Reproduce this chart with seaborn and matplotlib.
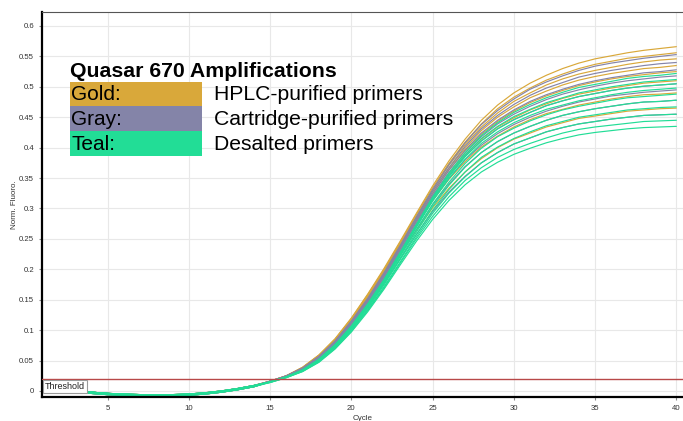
import pandas as pd
import matplotlib.pyplot as plt
import seaborn as sns
from matplotlib.patches import Rectangle

# cycles 1-14 (baseline) and cycles 15-40 (rise)
cycles = list(range(1, 41))

baseline_a = [0.004, 0.002, 0.000, -0.002, -0.004, -0.006, -0.007, -0.007, -0.007, -0.006, -0.004, -0.001, 0.003, 0.008]
baseline_b = [0.007, 0.004, 0.001, -0.002, -0.004, -0.005, -0.006, -0.006, -0.006, -0.005, -0.003, 0.000, 0.004, 0.009]
baseline_c = [0.002, 0.000, -0.002, -0.004, -0.006, -0.007, -0.008, -0.008, -0.008, -0.007, -0.005, -0.002, 0.002, 0.007]

gold_rise = [
    [.016, .025, .039, .059, .086, .120, .159, .201, .246, .292, .337, .378, .414, .445, .470, .490, .506, .519, .530, .539, .546, .551, .556, .560, .563, .566],
    [.016, .025, .039, .059, .085, .119, .158, .199, .244, .290, .334, .374, .409, .439, .464, .483, .498, .511, .521, .530, .537, .542, .547, .550, .553, .556],
    [.016, .025, .038, .058, .085, .118, .157, .198, .242, .287, .331, .371, .405, .434, .457, .476, .490, .503, .513, .521, .527, .532, .537, .541, .544, .546],
    [.016, .025, .038, .058, .084, .117, .155, .196, .240, .285, .328, .366, .399, .428, .450, .467, .482, .493, .503, .511, .517, .522, .526, .530, .532, .535],
    [.016, .024, .038, .057, .084, .116, .154, .195, .238, .282, .325, .363, .395, .422, .443, .460, .474, .485, .494, .502, .508, .513, .517, .520, .523, .525],
    [.016, .024, .037, .056, .083, .115, .152, .193, .235, .279, .321, .357, .388, .414, .434, .449, .462, .472, .481, .488, .493, .498, .502, .506, .508, .510],
    [.016, .024, .037, .055, .081, .113, .150, .189, .231, .273, .313, .348, .377, .401, .419, .434, .446, .456, .463, .470, .475, .480, .484, .487, .488, .490],
    [.016, .024, .036, .054, .079, .110, .146, .184, .224, .264, .301, .333, .360, .382, .400, .414, .424, .434, .441, .448, .452, .456, .460, .462, .464, .465],
]

gray_rise = [
    [.016, .025, .038, .057, .082, .115, .152, .194, .239, .286, .331, .372, .408, .438, .461, .480, .496, .508, .518, .527, .534, .539, .543, .547, .550, .553],
    [.016, .025, .037, .056, .082, .114, .151, .192, .237, .283, .328, .367, .402, .431, .453, .471, .486, .498, .507, .516, .522, .527, .531, .535, .538, .540],
    [.016, .024, .037, .055, .081, .113, .149, .190, .235, .280, .324, .363, .396, .424, .445, .462, .476, .487, .496, .504, .510, .515, .519, .523, .525, .528],
    [.016, .024, .037, .055, .080, .112, .148, .189, .233, .277, .321, .359, .391, .418, .439, .455, .468, .479, .488, .495, .501, .506, .510, .513, .516, .518],
    [.016, .024, .036, .054, .079, .110, .147, .187, .230, .274, .318, .354, .386, .411, .431, .446, .458, .469, .477, .484, .489, .494, .498, .501, .503, .505],
    [.016, .024, .036, .054, .079, .109, .145, .185, .228, .271, .314, .349, .380, .404, .423, .438, .450, .460, .468, .475, .480, .485, .488, .491, .493, .495],
    [.016, .024, .035, .053, .077, .107, .143, .182, .223, .265, .306, .340, .369, .392, .410, .424, .435, .445, .453, .459, .464, .468, .472, .475, .476, .478],
    [.015, .023, .035, .051, .075, .105, .139, .177, .217, .257, .295, .327, .353, .375, .392, .406, .416, .426, .433, .439, .443, .447, .450, .453, .454, .455],
]

teal_rise = [
    [.015, .023, .035, .052, .076, .107, .143, .183, .228, .274, .319, .358, .392, .420, .441, .458, .471, .482, .491, .499, .504, .509, .514, .517, .519, .522],
    [.015, .023, .034, .052, .076, .106, .142, .182, .226, .272, .317, .355, .388, .415, .435, .451, .463, .474, .482, .490, .495, .500, .504, .508, .510, .512],
    [.015, .023, .034, .051, .075, .105, .141, .181, .225, .270, .315, .352, .385, .411, .431, .446, .458, .469, .477, .484, .489, .494, .498, .501, .503, .505],
    [.015, .023, .034, .051, .075, .105, .140, .180, .224, .269, .312, .349, .381, .407, .426, .441, .453, .463, .470, .477, .482, .487, .491, .494, .496, .498],
    [.015, .023, .034, .050, .074, .104, .138, .178, .221, .265, .307, .343, .374, .399, .418, .432, .444, .454, .462, .468, .473, .478, .482, .484, .486, .488],
    [.015, .023, .033, .050, .073, .102, .137, .176, .218, .261, .303, .338, .368, .392, .410, .424, .435, .445, .453, .459, .464, .468, .472, .475, .476, .478],
    [.015, .023, .033, .049, .072, .101, .135, .174, .216, .257, .297, .331, .360, .384, .401, .415, .426, .436, .443, .450, .454, .458, .462, .464, .466, .467],
    [.014, .022, .033, .048, .071, .100, .133, .171, .212, .253, .292, .325, .352, .375, .392, .406, .416, .426, .433, .439, .443, .447, .450, .453, .454, .455],
    [.014, .022, .032, .048, .070, .098, .132, .169, .210, .250, .287, .319, .346, .367, .384, .397, .407, .416, .424, .430, .434, .437, .440, .443, .444, .445],
    [.014, .022, .032, .047, .069, .097, .130, .167, .207, .246, .282, .313, .339, .360, .376, .389, .399, .408, .415, .421, .425, .428, .431, .433, .434, .435],
]

groups = ["Gold", "Gray", "Teal"]
group_colors = {"Gold": "#D9A83A", "Gray": "#8484A8", "Teal": "#22DD96"}
descriptions = ["HPLC-purified primers", "Cartridge-purified primers", "Desalted primers"]

x_ticks = [5, 10, 15, 20, 25, 30, 35, 40]
y_ticks = [0, 0.05, 0.1, 0.15, 0.2, 0.25, 0.3, 0.35, 0.4, 0.45, 0.5, 0.55, 0.6]
y_labels = ["0", "0.05", "0.1", "0.15", "0.2", "0.25", "0.3", "0.35", "0.4", "0.45", "0.5", "0.55", "0.6"]
threshold = 0.02

baselines = [baseline_a, baseline_b, baseline_c]
rows = []
well = 0
for group, rises in zip(groups, [gold_rise, gray_rise, teal_rise]):
    for rise in rises:
        values = baselines[well % 3] + rise
        for c, v in zip(cycles, values):
            rows.append({"cycle": c, "fluoro": v, "group": group, "well": well})
        well += 1
df = pd.DataFrame(rows)

sns.set_theme(style="whitegrid")
plt.rcParams["font.family"] = ["Liberation Sans", "DejaVu Sans"]

W, H = 683, 421
fig = plt.figure(figsize=(W / 100, H / 100), dpi=100)
ax = fig.add_axes([42 / W, 24 / H, (W - 42) / W, 385 / H])
ax.set_facecolor("white")

sns.lineplot(data=df, x="cycle", y="fluoro", hue="group", units="well",
             estimator=None, palette=group_colors, hue_order=groups,
             linewidth=0.85, legend=False, ax=ax)

ax.axhline(threshold, color="#B84848", linewidth=1.0, zorder=5)
ax.text(1.12, 0.007, "Threshold", fontsize=6.5, color="#222222", va="center", ha="left",
        zorder=6, bbox=dict(boxstyle="square,pad=0.2", fc="white", ec="#9A9A9A", lw=0.8))

ax.set_xlim(0.96, 40.41)
ax.set_ylim(-0.0099, 0.623)
ax.set_xticks(x_ticks)
ax.set_yticks(y_ticks)
ax.set_yticklabels(y_labels)
ax.tick_params(axis="both", labelsize=5.6, colors="#333333", length=2.2, width=0.8,
               pad=3.5, color="#888888", bottom=True, left=True)
ax.grid(True, color="#E8E8E8", linewidth=0.8)
ax.set_xlabel("Cycle", fontsize=5.8, color="#333333", labelpad=2)
ax.set_ylabel("Norm. Fluoro.", fontsize=5.8, color="#333333")
ax.yaxis.set_label_coords(-0.0367, 0.5)

for side in ["left", "bottom"]:
    ax.spines[side].set_color("black")
    ax.spines[side].set_linewidth(1.6)
ax.spines["top"].set_color("#555555")
ax.spines["top"].set_linewidth(0.8)
ax.spines["right"].set_visible(False)

# legend block drawn as boxes and text (pixel positions)
fig.text(70 / W, 1 - 76.7 / H, "Quasar 670 Amplifications", fontsize=15.3,
         fontweight="bold", color="black", va="baseline", ha="left")
box_tops = [82, 106, 131]
box_bottoms = [106, 131, 156]
for group, desc, top, bot in zip(groups, descriptions, box_tops, box_bottoms):
    fig.add_artist(Rectangle((70 / W, 1 - bot / H), 131.7 / W, (bot - top) / H,
                             transform=fig.transFigure, facecolor=group_colors[group],
                             edgecolor="none", zorder=3))
    fig.text(71 / W, 1 - (bot - 6) / H, group + ":", fontsize=15, color="black",
             va="baseline", ha="left", zorder=4)
    fig.text(214 / W, 1 - (bot - 6) / H, desc, fontsize=15.2, color="black",
             va="baseline", ha="left", zorder=4)

fig.savefig("out.png", dpi=100)
